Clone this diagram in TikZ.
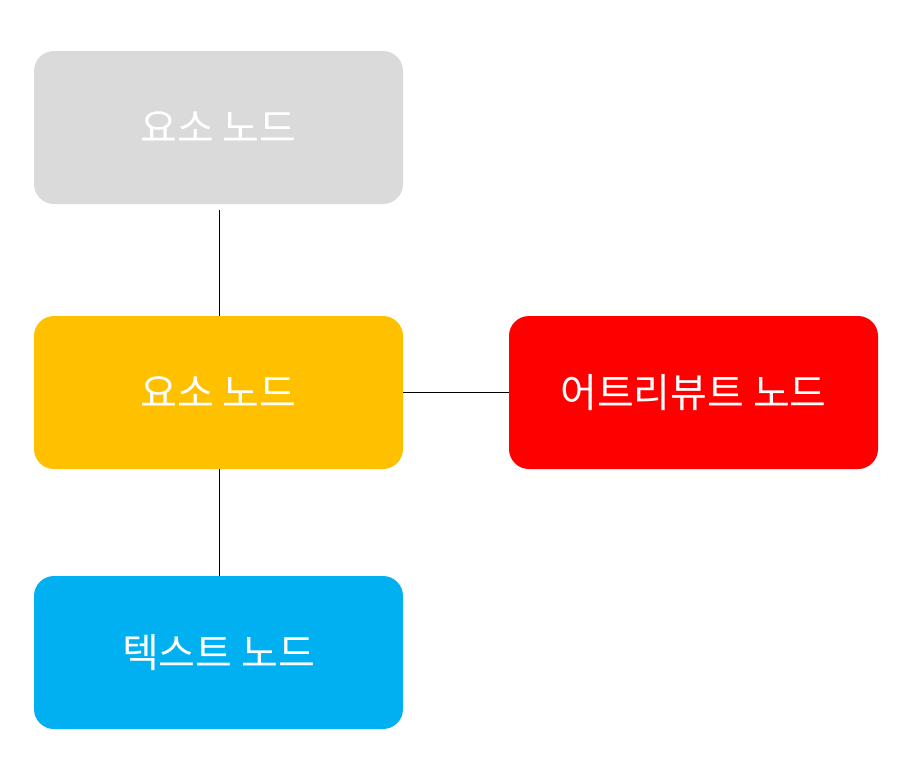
\documentclass[tikz,border=0pt]{standalone}
\usepackage{fontspec}
\newfontfamily\kr{Noto Sans CJK KR}
\definecolor{cgray}{HTML}{DADADA}
\definecolor{corange}{HTML}{FFC000}
\definecolor{cred}{HTML}{FF0000}
\definecolor{cblue}{HTML}{00B0F0}
\begin{document}
\begin{tikzpicture}[x=0.75pt,y=-0.75pt,
  box/.style={rounded corners=15pt, minimum width=276.75pt, minimum height=114.75pt, inner sep=0pt, text=white, font=\kr\fontsize{30}{36}\selectfont},
  link/.style={draw=black, line width=0.75pt}]
\useasboundingbox (0,0) rectangle (923,783);
\node[box, fill=cgray] (a) at (218.5,127.5) {요소 노드};
\node[box, fill=corange] (b) at (218.5,392.5) {요소 노드};
\node[box, fill=cred] (c) at (693.5,392.5) {어트리뷰트 노드};
\node[box, fill=cblue] (d) at (218.5,652.5) {텍스트 노드};
\draw[link] ([yshift=-4.5pt]a.south -| 219,0) -- (b.north -| 219,0);
\draw[link] (b.south -| 219,0) -- (d.north -| 219,0);
\draw[link] (b.east |- 0,392) -- (c.west |- 0,392);
\end{tikzpicture}
\end{document}
